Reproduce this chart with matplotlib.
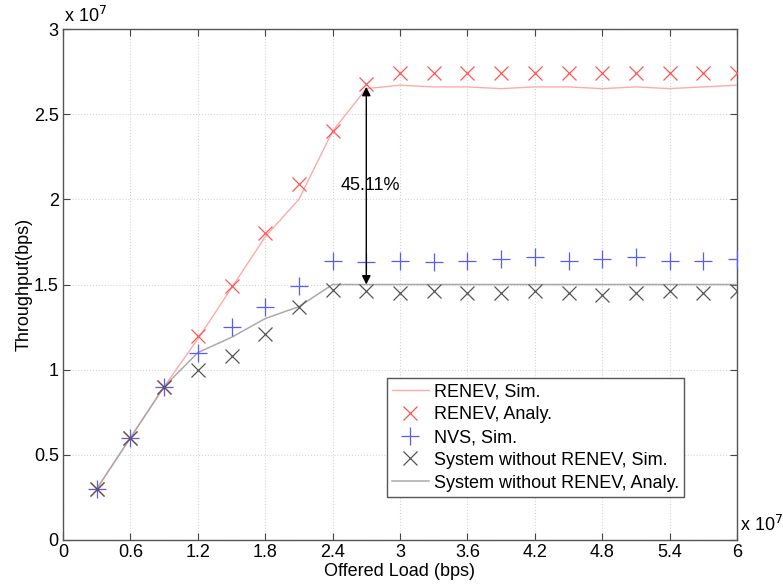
import numpy as np
import matplotlib
matplotlib.use("Agg")
import matplotlib.pyplot as plt

plt.rcParams['font.family'] = ['Liberation Sans', 'DejaVu Sans']

scale = 1e7
load = [0.3, 0.6, 0.9, 1.2, 1.5, 1.8, 2.1, 2.4, 2.7, 3.0, 3.3, 3.6, 3.9, 4.2, 4.5, 4.8, 5.1, 5.4, 5.7, 6.0]
renev_sim = [0.3, 0.6, 0.9, 1.18, 1.48, 1.78, 2.0, 2.4, 2.65, 2.67, 2.66, 2.66, 2.65, 2.66, 2.66, 2.65, 2.66, 2.65, 2.66, 2.67]
renev_analy = [0.3, 0.6, 0.9, 1.20, 1.49, 1.80, 2.09, 2.40, 2.68, 2.74, 2.74, 2.74, 2.74, 2.74, 2.74, 2.74, 2.74, 2.74, 2.74, 2.74]
nvs_sim = [0.3, 0.6, 0.9, 1.10, 1.25, 1.37, 1.49, 1.64, 1.63, 1.64, 1.63, 1.64, 1.65, 1.66, 1.64, 1.65, 1.66, 1.64, 1.64, 1.65]
wo_sim = [0.3, 0.6, 0.9, 1.00, 1.08, 1.21, 1.37, 1.47, 1.46, 1.45, 1.46, 1.45, 1.45, 1.46, 1.45, 1.44, 1.45, 1.46, 1.45, 1.46]
wo_analy = [0.3, 0.6, 0.9, 1.10, 1.19, 1.30, 1.37, 1.50, 1.50, 1.50, 1.50, 1.50, 1.50, 1.50, 1.50, 1.50, 1.50, 1.50, 1.50, 1.50]
xticks = [0, 0.6, 1.2, 1.8, 2.4, 3, 3.6, 4.2, 4.8, 5.4, 6]
xticklabels = ['0', '0.6', '1.2', '1.8', '2.4', '3', '3.6', '4.2', '4.8', '5.4', '6']
yticks = [0, 0.5, 1, 1.5, 2, 2.5, 3]
yticklabels = ['0', '0.5', '1', '1.5', '2', '2.5', '3']
gain_label = '45.11%'

FS = 13
x = np.array(load) * scale
fig = plt.figure(figsize=(7.83, 5.85), dpi=100)
ax = fig.add_axes([63/783, 45/585, (737-63)/783, (540-29)/585])

ax.plot(x, np.array(renev_sim) * scale, color='#ffaaaa', lw=1.0, label='RENEV, Sim.', zorder=3)
ax.plot(x, np.array(renev_analy) * scale, 'x', color='#ff5555', ms=10, mew=0.9, label='RENEV, Analy.', zorder=4)
ax.plot(x, np.array(nvs_sim) * scale, '+', color='#5a5aff', ms=13, mew=0.9, label='NVS, Sim.', zorder=4)
ax.plot(x, np.array(wo_sim) * scale, 'x', color='#555555', ms=10, mew=0.9, label='System without RENEV, Sim.', zorder=4)
ax.plot(x, np.array(wo_analy) * scale, color='#aaaaaa', lw=1.1, label='System without RENEV, Analy.', zorder=3)

ax.annotate('', xy=(2.7 * scale, 2.66 * scale), xytext=(2.7 * scale, 1.50 * scale),
            arrowprops=dict(arrowstyle='<|-|>', color='black', lw=1.0, mutation_scale=13,
                            shrinkA=0, shrinkB=0), zorder=5)
ax.text(2.47 * scale, 2.08 * scale, gain_label, fontsize=FS, va='center', ha='left')

ax.set_xlim(0, 6 * scale)
ax.set_ylim(0, 3 * scale)
ax.set_xticks(np.array(xticks) * scale)
ax.set_xticklabels(xticklabels)
ax.set_yticks(np.array(yticks) * scale)
ax.set_yticklabels(yticklabels)
ax.tick_params(direction='in', top=True, right=True, labelsize=FS, length=5, color='#444444', pad=3)
ax.grid(True, ls=':', color='#d5d5d5', lw=0.8)
for s in ax.spines.values():
    s.set_color('#555555')
    s.set_linewidth(1.0)

ax.set_xlabel('Offered Load (bps)', fontsize=FS, labelpad=1)
ax.set_ylabel('Throughput(bps)', fontsize=FS, labelpad=1)
fig.text(64/783, 1 - 16/585, r'x 10$^{7}$', fontsize=FS, va='center', ha='left')
fig.text(740/783, 1 - 525/585, r'x 10$^{7}$', fontsize=FS, va='center', ha='left')

leg = ax.legend(loc='lower left', bbox_to_anchor=((387-63)/674, (540-497)/511), fontsize=FS,
                frameon=True, fancybox=False, edgecolor='#555555', framealpha=1,
                handlelength=2.0, labelspacing=0.32, borderpad=0.3, handletextpad=0.3,
                borderaxespad=0)
leg.get_frame().set_linewidth(1.0)

fig.savefig('out.png', dpi=100)
